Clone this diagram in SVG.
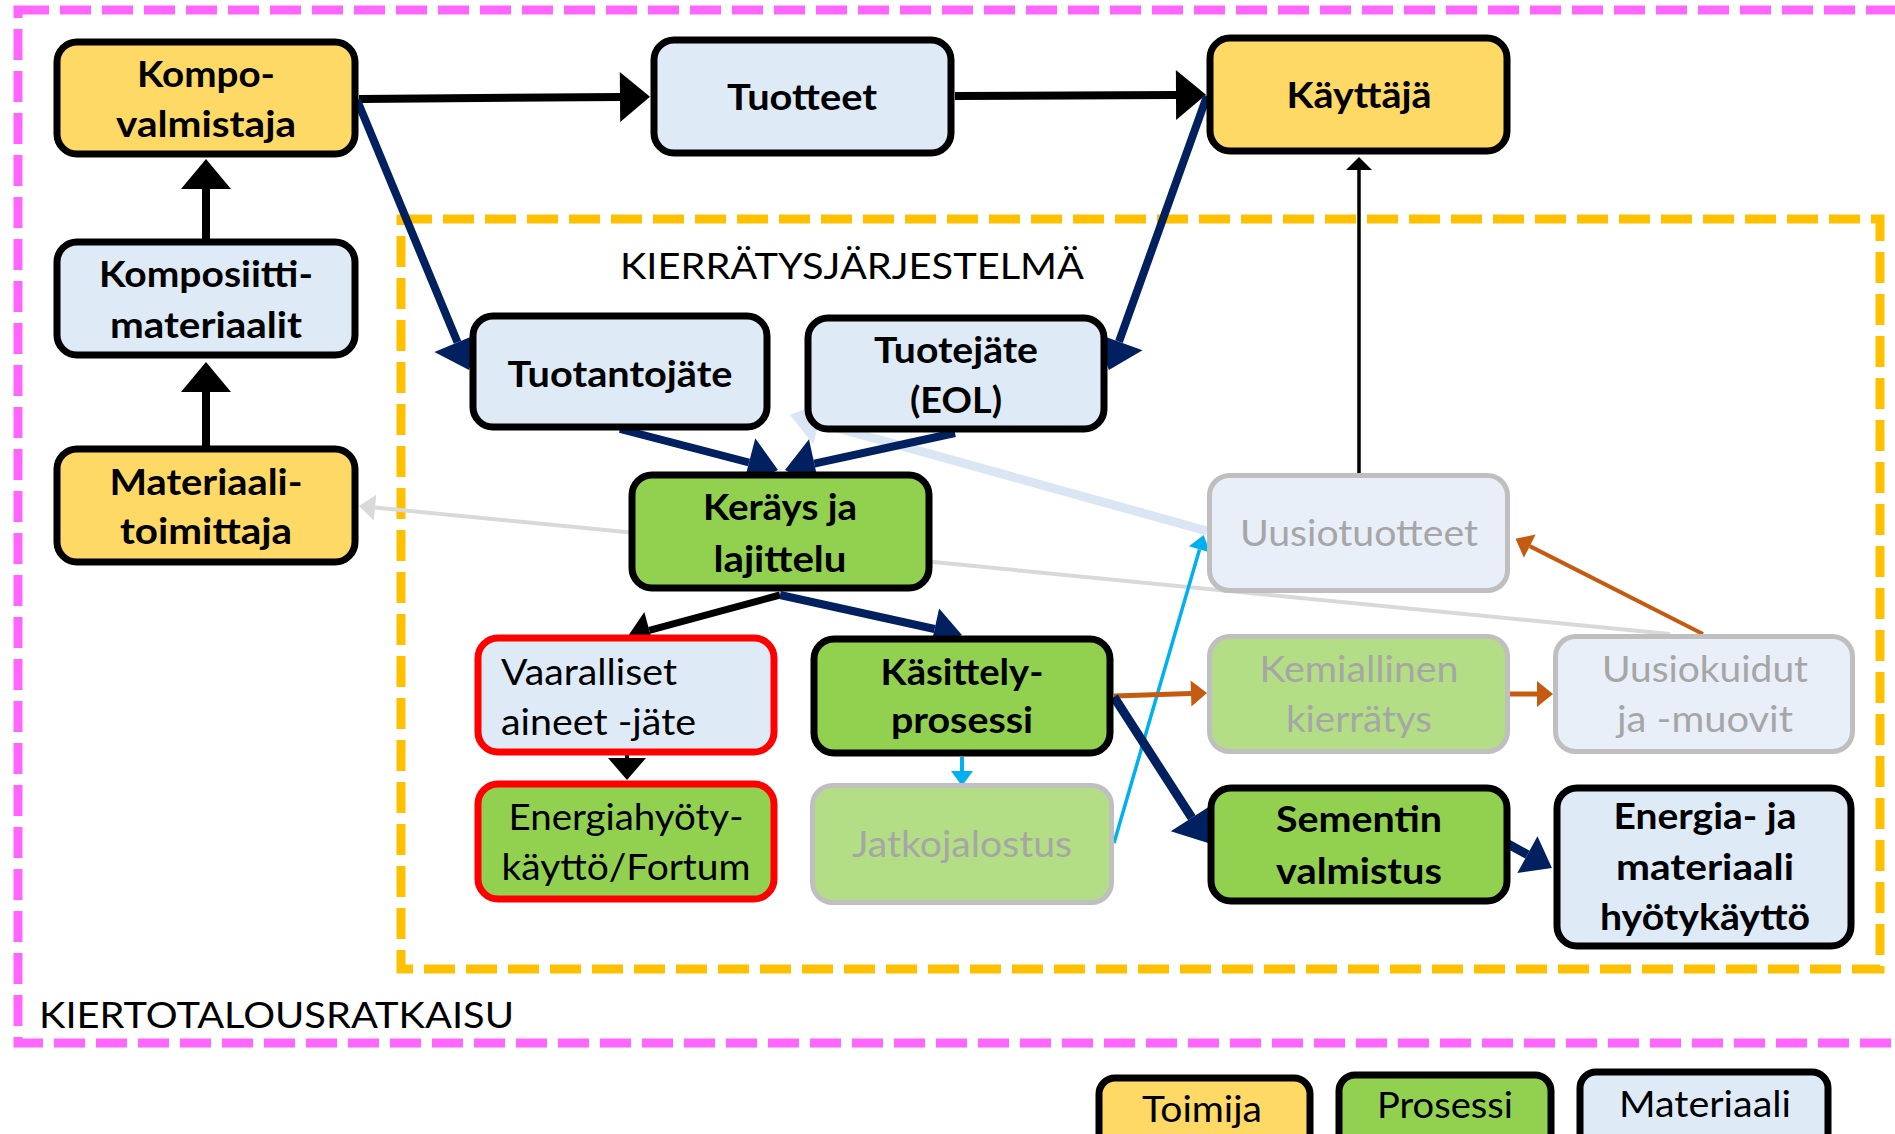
<svg xmlns="http://www.w3.org/2000/svg" width="1895" height="1134" viewBox="0 0 1895 1134">
<style>
text{font-family:Lato,"Open Sans","Liberation Sans",sans-serif;font-size:36px;fill:#000}
.b{font-weight:bold}
.c{text-anchor:middle}
.g{fill:#A6A6A6}
.nb{stroke:#000;stroke-width:7}
.nr{stroke:#FF0000;stroke-width:7}
.ng{stroke:#BFBFBF;stroke-width:5}
.yel{fill:#FFD966}
.grn{fill:#92D050}
.blu{fill:#DEEBF7}
.fgrn{fill:#B3DE85}
.fblu{fill:#E8EFF8}
.navy{stroke:#002060;stroke-width:8;fill:none}
.blk{stroke:#000;stroke-width:8;fill:none}
</style>
<defs>
<marker id="mBlk" markerUnits="userSpaceOnUse" orient="auto" refX="0" refY="0" overflow="visible"><path d="M0,-25 L30,0 L0,25 z" fill="#000"/></marker>
<marker id="mBlkS" markerUnits="userSpaceOnUse" orient="auto" refX="0" refY="0" overflow="visible"><path d="M0,-19 L22,0 L0,19 z" fill="#000"/></marker>
<marker id="mBlkT" markerUnits="userSpaceOnUse" orient="auto" refX="0" refY="0" overflow="visible"><path d="M0,-13 L13,0 L0,13 z" fill="#000"/></marker>
<marker id="mNavy" markerUnits="userSpaceOnUse" orient="auto" refX="0" refY="0" overflow="visible"><path d="M0,-25 L30,0 L0,25 z" fill="#002060"/></marker>
<marker id="mNavyS" markerUnits="userSpaceOnUse" orient="auto" refX="0" refY="0" overflow="visible"><path d="M0,-21 L28,0 L0,21 z" fill="#002060"/></marker>
<marker id="mCyan" markerUnits="userSpaceOnUse" orient="auto" refX="0" refY="0" overflow="visible"><path d="M0,-11 L15,0 L0,11 z" fill="#00B0F0"/></marker>
<marker id="mOr" markerUnits="userSpaceOnUse" orient="auto" refX="0" refY="0" overflow="visible"><path d="M0,-13 L16,0 L0,13 z" fill="#C55A11"/></marker>
<marker id="mGray" markerUnits="userSpaceOnUse" orient="auto" refX="0" refY="0" overflow="visible"><path d="M0,-13 L16,0 L0,13 z" fill="#D9D9D9"/></marker>
<marker id="mPale" markerUnits="userSpaceOnUse" orient="auto" refX="0" refY="0" overflow="visible"><path d="M0,-22 L30,0 L0,22 z" fill="#DAE6F4"/></marker>
</defs>
<rect width="1895" height="1134" fill="#fff"/>

<g id="frames">
<rect x="18" y="10" width="1890" height="1033" fill="none" stroke="#FF66FF" stroke-width="9" stroke-dasharray="31 11"/>
<rect x="401" y="219" width="1479" height="750" fill="none" stroke="#FFC000" stroke-width="9" stroke-dasharray="31 11"/>
<text x="620" y="279" textLength="464" lengthAdjust="spacingAndGlyphs">KIERRÄTYSJÄRJESTELMÄ</text>
<text x="39" y="1028" textLength="475" lengthAdjust="spacingAndGlyphs">KIERTOTALOUSRATKAISU</text>
</g>

<g id="connectors">
<path d="M1670,634 L375,507.6" stroke="#D9D9D9" stroke-width="4" fill="none" marker-end="url(#mGray)"/>
<path d="M1207,531 L819,423" stroke="#DAE6F4" stroke-width="9" fill="none" marker-end="url(#mPale)"/>
<path d="M206,446 L206,392" class="blk" marker-end="url(#mBlk)"/>
<path d="M206,239 L206,189" class="blk" marker-end="url(#mBlk)"/>
<path d="M359,99 L620,97" class="blk" marker-end="url(#mBlk)"/>
<path d="M955,96 L1176,95" class="blk" marker-end="url(#mBlk)"/>
<path d="M357,100 L457.5,342.3" class="navy" marker-end="url(#mNavy)"/>
<path d="M1207,96 L1119,341.7" class="navy" marker-end="url(#mNavy)"/>
<path d="M620,429 L749,462.5" class="navy" marker-end="url(#mNavy)"/>
<path d="M955,433 L814.3,463.6" class="navy" marker-end="url(#mNavy)"/>
<path d="M780,595 L649.3,630.3" stroke="#000" stroke-width="7" fill="none" marker-end="url(#mBlkS)"/>
<path d="M780,595 L934.6,629" class="navy" marker-end="url(#mNavyS)"/>
<path d="M627,754 L627,758" stroke="#000" stroke-width="4" fill="none" marker-end="url(#mBlkS)"/>
<path d="M962,757 L962,771" stroke="#00B0F0" stroke-width="4" fill="none" marker-end="url(#mCyan)"/>
<path d="M1114,843 L1199.5,549.4" stroke="#00B0F0" stroke-width="3.5" fill="none" marker-end="url(#mCyan)"/>
<path d="M1114,696 L1191,693.5" stroke="#C55A11" stroke-width="5" fill="none" marker-end="url(#mOr)"/>
<path d="M1510,694 L1537,694" stroke="#C55A11" stroke-width="5" fill="none" marker-end="url(#mOr)"/>
<path d="M1703,634 L1529.8,546.1" stroke="#C55A11" stroke-width="4" fill="none" marker-end="url(#mOr)"/>
<path d="M1114,697 L1191.8,817.8" stroke="#002060" stroke-width="9" fill="none" marker-end="url(#mNavy)"/>
<path d="M1508,844 L1527.4,854.6" stroke="#002060" stroke-width="9" fill="none" marker-end="url(#mNavyS)"/>
<path d="M1359,473 L1359,170" stroke="#000" stroke-width="3.5" fill="none" marker-end="url(#mBlkT)"/>
</g>

<g id="n-kompo"><rect x="57" y="42" width="298" height="112" rx="20" class="yel nb"/>
<text class="b c" x="206" y="87" textLength="138" lengthAdjust="spacingAndGlyphs">Kompo-</text>
<text class="b c" x="206" y="137" textLength="180" lengthAdjust="spacingAndGlyphs">valmistaja</text></g>

<g id="n-tuotteet"><rect x="654" y="40" width="297" height="113" rx="20" class="blu nb"/>
<text class="b c" x="802" y="110" textLength="150" lengthAdjust="spacingAndGlyphs">Tuotteet</text></g>

<g id="n-kayttaja"><rect x="1210" y="38" width="297" height="113" rx="20" class="yel nb"/>
<text class="b c" x="1359" y="108" textLength="145" lengthAdjust="spacingAndGlyphs">Käyttäjä</text></g>

<g id="n-komposiitti"><rect x="57" y="242" width="298" height="113" rx="20" class="blu nb"/>
<text class="b c" x="206" y="287" textLength="214" lengthAdjust="spacingAndGlyphs">Komposiitti-</text>
<text class="b c" x="206" y="338" textLength="192" lengthAdjust="spacingAndGlyphs">materiaalit</text></g>

<g id="n-materiaalitoimittaja"><rect x="57" y="449" width="298" height="113" rx="20" class="yel nb"/>
<text class="b c" x="206" y="495" textLength="193" lengthAdjust="spacingAndGlyphs">Materiaali-</text>
<text class="b c" x="206" y="544" textLength="172" lengthAdjust="spacingAndGlyphs">toimittaja</text></g>

<g id="n-tuotantojate"><rect x="473" y="316" width="294" height="111" rx="20" class="blu nb"/>
<text class="b c" x="620" y="387" textLength="225" lengthAdjust="spacingAndGlyphs">Tuotantojäte</text></g>

<g id="n-tuotejate"><rect x="808" y="318" width="296" height="111" rx="20" class="blu nb"/>
<text class="b c" x="956" y="363" textLength="164" lengthAdjust="spacingAndGlyphs">Tuotejäte</text>
<text class="b c" x="956" y="413" textLength="92" lengthAdjust="spacingAndGlyphs">(EOL)</text></g>

<g id="n-kerays"><rect x="632" y="475" width="297" height="113" rx="20" class="grn nb"/>
<text class="b c" x="780" y="520" textLength="154" lengthAdjust="spacingAndGlyphs">Keräys ja</text>
<text class="b c" x="780" y="572" textLength="133" lengthAdjust="spacingAndGlyphs">lajittelu</text></g>

<g id="n-vaaralliset"><rect x="478" y="638" width="296" height="114" rx="20" class="blu nr"/>
<text x="501" y="685" textLength="176" lengthAdjust="spacingAndGlyphs">Vaaralliset</text>
<text x="501" y="735" textLength="195" lengthAdjust="spacingAndGlyphs">aineet -jäte</text></g>

<g id="n-kasittely"><rect x="814" y="639" width="296" height="114" rx="20" class="grn nb"/>
<text class="b c" x="962" y="685" textLength="163" lengthAdjust="spacingAndGlyphs">Käsittely-</text>
<text class="b c" x="962" y="733" textLength="142" lengthAdjust="spacingAndGlyphs">prosessi</text></g>

<g id="n-energiahyoty"><rect x="478" y="784" width="296" height="115" rx="20" class="grn nr"/>
<text class="c" x="626" y="830" textLength="235" lengthAdjust="spacingAndGlyphs">Energiahyöty-</text>
<text class="c" x="626" y="880" textLength="249" lengthAdjust="spacingAndGlyphs">käyttö/Fortum</text></g>

<g id="n-jatkojalostus"><rect x="812.5" y="785.5" width="299" height="117" rx="20" class="fgrn ng"/>
<text class="c g" x="962" y="857" textLength="220" lengthAdjust="spacingAndGlyphs">Jatkojalostus</text></g>

<g id="n-uusiotuotteet"><rect x="1209.5" y="475.5" width="298" height="115" rx="20" class="fblu ng"/>
<text class="c g" x="1359" y="546" textLength="238" lengthAdjust="spacingAndGlyphs">Uusiotuotteet</text></g>

<g id="n-kemiallinen"><rect x="1209.5" y="636.5" width="298" height="115" rx="20" class="fgrn ng"/>
<text class="c g" x="1359" y="682" textLength="199" lengthAdjust="spacingAndGlyphs">Kemiallinen</text>
<text class="c g" x="1359" y="732" textLength="146" lengthAdjust="spacingAndGlyphs">kierrätys</text></g>

<g id="n-uusiokuidut"><rect x="1555.5" y="636.5" width="297" height="115" rx="20" class="fblu ng"/>
<text class="c g" x="1705" y="682" textLength="206" lengthAdjust="spacingAndGlyphs">Uusiokuidut</text>
<text class="c g" x="1705" y="732" textLength="176" lengthAdjust="spacingAndGlyphs">ja -muovit</text></g>

<g id="n-sementin"><rect x="1211" y="788" width="296" height="113" rx="20" class="grn nb"/>
<text class="b c" x="1359" y="832" textLength="166" lengthAdjust="spacingAndGlyphs">Sementin</text>
<text class="b c" x="1359" y="884" textLength="166" lengthAdjust="spacingAndGlyphs">valmistus</text></g>

<g id="n-energiamateriaali"><rect x="1557" y="788" width="294" height="158" rx="20" class="blu nb"/>
<text class="b c" x="1705" y="829" textLength="183" lengthAdjust="spacingAndGlyphs">Energia- ja</text>
<text class="b c" x="1705" y="880" textLength="178" lengthAdjust="spacingAndGlyphs">materiaali</text>
<text class="b c" x="1705" y="930" textLength="210" lengthAdjust="spacingAndGlyphs">hyötykäyttö</text></g>

<g id="legend">
<g id="l-toimija"><rect x="1099" y="1078" width="211" height="80" rx="16" class="yel nb"/>
<text class="c" x="1202" y="1122" textLength="120" lengthAdjust="spacingAndGlyphs">Toimija</text></g>
<g id="l-prosessi"><rect x="1339" y="1075" width="212" height="80" rx="16" class="grn nb"/>
<text class="c" x="1445" y="1118" textLength="136" lengthAdjust="spacingAndGlyphs">Prosessi</text></g>
<g id="l-materiaali"><rect x="1580" y="1072" width="248" height="80" rx="16" class="blu nb"/>
<text class="c" x="1705" y="1117" textLength="172" lengthAdjust="spacingAndGlyphs">Materiaali</text></g>
</g>
</svg>
